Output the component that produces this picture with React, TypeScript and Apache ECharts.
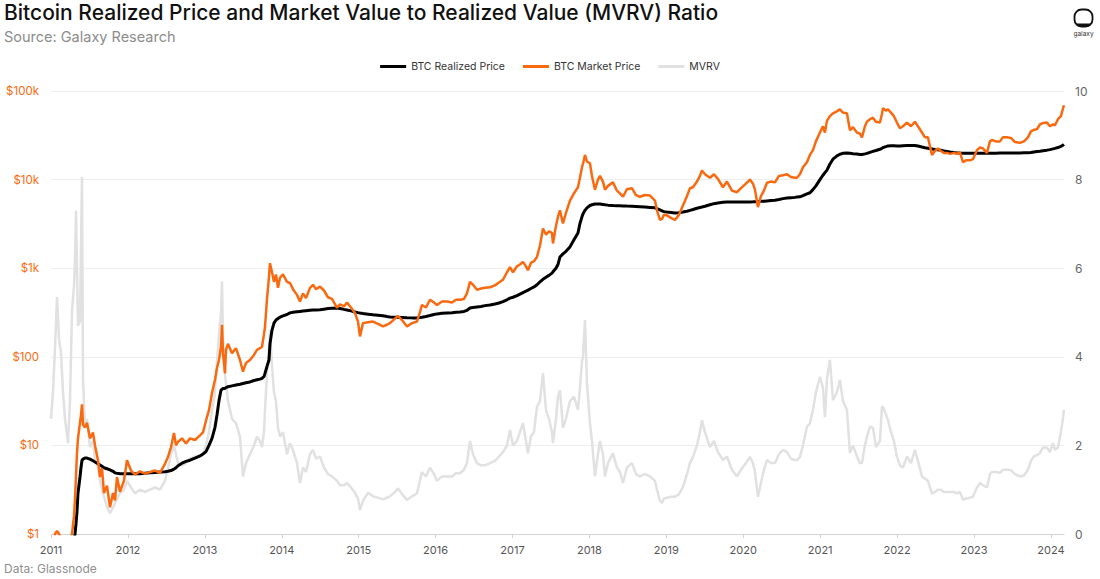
import React, { useEffect, useRef } from 'react';
import * as echarts from 'echarts';

// Time in decimal years
const years = [
  2011.0, 2011.026, 2011.052, 2011.078, 2011.104, 2011.13, 2011.156, 2011.182, 2011.221, 2011.247, 2011.273, 2011.299, 2011.312, 2011.325, 2011.338, 2011.351, 2011.377, 2011.39, 2011.403, 2011.416, 2011.442, 2011.468, 2011.507, 2011.546, 2011.572, 2011.611, 2011.637, 2011.663, 2011.689, 2011.728, 2011.767, 2011.806, 2011.832, 2011.858, 2011.897, 2011.949, 2011.988,
  2012.04, 2012.092, 2012.157, 2012.222, 2012.287, 2012.352, 2012.417, 2012.482, 2012.521, 2012.56, 2012.599, 2012.625, 2012.651, 2012.703, 2012.755, 2012.807, 2012.872, 2012.937, 2012.976,
  2013.015, 2013.054, 2013.093, 2013.132, 2013.158, 2013.184, 2013.21, 2013.223, 2013.236, 2013.262, 2013.275, 2013.301, 2013.353, 2013.405, 2013.457, 2013.496, 2013.535, 2013.587, 2013.639, 2013.678, 2013.717, 2013.743, 2013.769, 2013.782, 2013.808, 2013.834, 2013.847, 2013.873, 2013.899, 2013.925, 2013.951, 2013.977,
  2014.016, 2014.068, 2014.107, 2014.146, 2014.198, 2014.237, 2014.276, 2014.315, 2014.367, 2014.406, 2014.445, 2014.497, 2014.549, 2014.601, 2014.653, 2014.718, 2014.757, 2014.809, 2014.848, 2014.9, 2014.952, 2014.991,
  2015.017, 2015.056, 2015.121, 2015.186, 2015.251, 2015.316, 2015.368, 2015.407, 2015.472, 2015.511, 2015.563, 2015.628, 2015.693, 2015.758, 2015.797, 2015.823, 2015.875, 2015.927, 2015.979,
  2016.018, 2016.083, 2016.148, 2016.213, 2016.265, 2016.317, 2016.369, 2016.408, 2016.447, 2016.486, 2016.538, 2016.59, 2016.642, 2016.707, 2016.772, 2016.824, 2016.876, 2016.928, 2016.967,
  2017.006, 2017.058, 2017.097, 2017.136, 2017.175, 2017.201, 2017.24, 2017.279, 2017.318, 2017.357, 2017.396, 2017.435, 2017.474, 2017.513, 2017.526, 2017.565, 2017.591, 2017.617, 2017.656, 2017.695, 2017.747, 2017.799, 2017.851, 2017.877, 2017.903, 2017.916, 2017.942, 2017.968,
  2018.007, 2018.033, 2018.072, 2018.111, 2018.137, 2018.176, 2018.202, 2018.241, 2018.306, 2018.358, 2018.397, 2018.436, 2018.488, 2018.553, 2018.605, 2018.657, 2018.722, 2018.787, 2018.852, 2018.878, 2018.917, 2018.943, 2018.969,
  2019.008, 2019.06, 2019.112, 2019.164, 2019.216, 2019.268, 2019.307, 2019.346, 2019.398, 2019.437, 2019.463, 2019.502, 2019.567, 2019.619, 2019.671, 2019.736, 2019.788, 2019.853, 2019.918, 2019.97,
  2020.035, 2020.087, 2020.126, 2020.152, 2020.191, 2020.23, 2020.269, 2020.308, 2020.36, 2020.412, 2020.464, 2020.516, 2020.568, 2020.62, 2020.672, 2020.698, 2020.737, 2020.776, 2020.828, 2020.867, 2020.906, 2020.945, 2020.997,
  2021.036, 2021.062, 2021.088, 2021.127, 2021.166, 2021.218, 2021.257, 2021.296, 2021.348, 2021.387, 2021.426, 2021.478, 2021.517, 2021.543, 2021.582, 2021.608, 2021.647, 2021.686, 2021.725, 2021.777, 2021.803, 2021.816, 2021.855, 2021.881, 2021.92, 2021.959, 2021.998,
  2022.037, 2022.076, 2022.128, 2022.18, 2022.232, 2022.271, 2022.323, 2022.362, 2022.401, 2022.453, 2022.492, 2022.531, 2022.57, 2022.609, 2022.648, 2022.687, 2022.739, 2022.778, 2022.817, 2022.856, 2022.895, 2022.947, 2022.986,
  2023.038, 2023.077, 2023.116, 2023.168, 2023.207, 2023.233, 2023.285, 2023.337, 2023.376, 2023.428, 2023.48, 2023.532, 2023.597, 2023.649, 2023.701, 2023.74, 2023.779, 2023.818, 2023.857, 2023.896, 2023.948, 2023.987,
  2024.026, 2024.052, 2024.091, 2024.13, 2024.156, 2024.169,
];

// BTC market price, USD
const marketPrice = [
  0.3, 0.5, 1.0, 1.08, 1.0, 0.9, 0.85, 0.85, 0.8, 0.9, 1.0, 1.6, 2.5, 4.5, 8.2, 12, 18, 22, 29, 17, 16, 18, 12, 14, 10, 6.8, 4.4, 5.5, 2.9, 3.5, 2.0, 2.9, 2.4, 4.4, 3.0, 4.0, 6.8,
  5.2, 4.7, 5.1, 4.8, 5.0, 5.2, 4.9, 6.2, 7.4, 9.5, 13.8, 10, 11, 12, 10.5, 12, 11.5, 13, 14,
  19, 25, 39, 55, 75, 92, 130, 230, 110, 65, 120, 140, 110, 125, 92, 68, 85, 92, 105, 120, 125, 130, 180, 217, 450, 800, 1140, 900, 700, 850, 600, 780,
  850, 700, 680, 580, 500, 420, 520, 460, 600, 650, 580, 620, 560, 470, 450, 360, 390, 370, 410, 360, 313, 250,
  170, 240, 245, 250, 235, 220, 230, 240, 270, 290, 260, 220, 240, 250, 320, 385, 360, 440, 410,
  385, 420, 420, 410, 440, 440, 450, 520, 700, 650, 570, 590, 600, 610, 640, 690, 740, 900, 1030,
  900, 1050, 1100, 1180, 1050, 950, 1150, 1200, 1340, 1800, 2800, 2400, 2600, 2500, 1900, 3000, 3800, 4500, 3200, 4200, 5800, 7000, 8200, 10500, 13800, 15000, 19000, 16000,
  15300, 11000, 7700, 10000, 11000, 9500, 7700, 8500, 9300, 7500, 7000, 6400, 7800, 8000, 6700, 6400, 6700, 6600, 5800, 4500, 3500, 3600, 4000,
  3950, 3700, 3500, 4000, 5100, 6500, 8000, 8200, 9500, 11000, 12700, 11500, 10500, 11500, 10200, 8200, 9500, 7500, 7200, 8000,
  9000, 10000, 9000, 7700, 4900, 6500, 7500, 9200, 9500, 9300, 11000, 11200, 11500, 10700, 10500, 10500, 11500, 13800, 15700, 19000, 21500, 27000, 34000,
  40000, 34000, 46000, 52000, 56000, 59000, 62000, 57000, 56000, 36000, 39000, 34000, 33000, 30000, 40000, 45000, 48000, 50000, 45000, 44000, 55000, 64000, 60000, 62000, 57000, 52000, 44000,
  38000, 40000, 44000, 40000, 45000, 40000, 34000, 30000, 30000, 19000, 21000, 22500, 21000, 20000, 20000, 19500, 20000, 19500, 20500, 15700, 16500, 16500, 17000,
  21500, 23000, 22500, 20000, 27000, 28000, 27000, 27000, 30000, 30000, 29500, 26500, 26000, 27000, 30000, 35000, 36500, 37000, 42000, 43500, 44000, 40000,
  42000, 41000, 48000, 52000, 63000, 69000,
];

// BTC realized price, USD
const realizedPrice = [
  0.1, 0.12, 0.15, 0.18, 0.2, 0.22, 0.25, 0.3, 0.4, 0.5, 0.65, 0.85, 1.0, 1.3, 1.8, 2.9, 4.4, 5.6, 6.8, 7.0, 7.2, 7.2, 7.0, 6.7, 6.5, 6.2, 6.0, 5.8, 5.6, 5.45, 5.3, 5.1, 4.9, 4.85, 4.8, 4.8, 4.8,
  4.8, 4.8, 4.8, 4.85, 4.9, 4.95, 5.0, 5.05, 5.1, 5.2, 5.4, 5.6, 5.9, 6.3, 6.6, 6.8, 7.2, 7.6, 8.0,
  8.5, 10, 12, 16, 22, 32, 42, 43, 44, 44, 45, 46, 47, 48, 49, 50, 51, 52, 54, 55, 56, 57, 60, 65, 78, 92, 140, 200, 240, 260, 270, 280,
  290, 300, 313, 318, 322, 325, 328, 331, 335, 337, 338, 340, 345, 350, 353, 355, 350, 343, 338, 330, 320, 315,
  312, 308, 303, 298, 294, 290, 285, 282, 280, 279, 278, 276, 275, 275, 278, 280, 285, 292, 300,
  305, 310, 313, 315, 318, 320, 325, 335, 355, 360, 365, 370, 378, 385, 395, 405, 420, 440, 460,
  470, 490, 510, 530, 550, 565, 590, 615, 650, 700, 750, 790, 830, 880, 910, 1000, 1100, 1340, 1450, 1550, 1740, 2100, 2500, 3200, 3800, 4100, 4500, 4800,
  5100, 5200, 5300, 5300, 5300, 5250, 5200, 5150, 5100, 5080, 5060, 5040, 5020, 5000, 4980, 4950, 4900, 4850, 4800, 4700, 4550, 4450, 4350,
  4300, 4250, 4200, 4220, 4300, 4400, 4500, 4600, 4750, 4850, 4900, 5000, 5200, 5350, 5450, 5550, 5600, 5600, 5600, 5600,
  5600, 5600, 5620, 5640, 5650, 5680, 5700, 5750, 5800, 5850, 5950, 6100, 6200, 6250, 6300, 6350, 6400, 6600, 6900, 7100, 7700, 8500, 10000,
  11200, 12000, 12800, 15000, 17000, 18500, 19300, 19800, 20000, 19800, 19600, 19400, 19200, 19200, 19500, 19800, 20300, 20800, 21300, 22000, 22500, 23000, 23600, 24000, 24100, 24100, 24000,
  24000, 24100, 24200, 24300, 24300, 23900, 23300, 22900, 22600, 22200, 21900, 21700, 21400, 21100, 20800, 20500, 20200, 20000, 19900, 19850, 19800, 19800, 19800,
  19800, 19800, 19800, 19800, 19800, 19850, 19850, 19900, 19900, 19950, 19950, 20000, 20000, 20050, 20100, 20200, 20500, 20700, 20900, 21200, 21500, 21800,
  22200, 22500, 23000, 23700, 24400, 25000,
];

// Market value to realized value ratio
const mvrv = [
  2.6, 3.2, 4.2, 5.35, 4.4, 4.1, 3.2, 2.6, 2.05, 3.0, 5.05, 5.6, 6.2, 7.3, 6.0, 4.7, 4.8, 6.5, 8.06, 3.5, 2.4, 2.6, 1.96, 2.1, 1.67, 1.5, 1.2, 1.0, 0.85, 0.6, 0.47, 0.6, 0.7, 0.8, 0.92, 1.0, 1.2,
  1.05, 0.92, 1.0, 0.95, 1.0, 1.05, 1.0, 1.2, 1.5, 1.8, 2.0, 1.8, 1.6, 1.55, 1.6, 1.7, 1.75, 1.75, 1.8,
  2.0, 2.3, 2.8, 3.2, 3.9, 4.5, 5.0, 5.7, 4.4, 3.6, 3.4, 3.0, 2.6, 2.5, 2.2, 1.3, 1.6, 1.8, 2.0, 2.2, 2.1, 1.96, 2.3, 2.8, 3.6, 4.2, 4.6, 3.8, 3.2, 3.0, 2.4, 2.2,
  2.3, 1.8, 2.05, 1.9, 1.6, 1.15, 1.5, 1.4, 1.8, 1.9, 1.7, 1.75, 1.5, 1.35, 1.3, 1.2, 1.1, 1.1, 1.15, 1.05, 0.93, 0.8,
  0.54, 0.75, 0.93, 0.85, 0.82, 0.78, 0.82, 0.85, 0.95, 1.03, 0.9, 0.77, 0.85, 0.92, 1.2, 1.4, 1.3, 1.5, 1.35,
  1.2, 1.3, 1.3, 1.3, 1.37, 1.37, 1.45, 1.6, 2.1, 1.8, 1.6, 1.55, 1.55, 1.6, 1.65, 1.75, 1.85, 2.0, 2.35,
  2.0, 2.1, 2.3, 2.5, 2.1, 1.82, 2.2, 2.3, 2.87, 3.0, 3.63, 2.8, 2.6, 2.3, 2.05, 2.6, 3.1, 3.25, 2.4, 2.6, 3.0, 3.1, 2.8, 3.3, 3.9, 4.0, 4.83, 3.4,
  2.5, 2.1, 1.3, 1.8, 2.1, 1.8, 1.3, 1.6, 1.82, 1.5, 1.4, 1.15, 1.5, 1.6, 1.35, 1.3, 1.35, 1.3, 1.2, 1.0, 0.75, 0.7, 0.8,
  0.82, 0.84, 0.84, 0.9, 1.06, 1.35, 1.6, 1.74, 2.0, 2.3, 2.57, 2.3, 1.96, 2.1, 1.85, 1.67, 1.75, 1.45, 1.3, 1.45,
  1.6, 1.74, 1.6, 1.4, 0.84, 1.15, 1.45, 1.67, 1.6, 1.6, 1.8, 1.9, 1.85, 1.7, 1.67, 1.67, 1.74, 2.0, 2.42, 2.5, 2.8, 3.2, 3.55,
  3.3, 2.64, 3.5, 3.93, 3.02, 3.2, 3.48, 3.0, 2.8, 1.83, 2.0, 1.75, 1.6, 1.6, 2.0, 2.2, 2.42, 2.4, 1.96, 2.1, 2.87, 2.87, 2.7, 2.57, 2.3, 2.1, 1.74,
  1.55, 1.5, 1.75, 1.6, 1.9, 1.65, 1.3, 1.25, 1.2, 0.92, 0.95, 1.0, 1.0, 0.95, 0.95, 0.95, 0.95, 0.92, 0.95, 0.77, 0.8, 0.82, 0.84,
  1.05, 1.15, 1.1, 1.05, 1.35, 1.4, 1.4, 1.38, 1.45, 1.45, 1.44, 1.35, 1.3, 1.32, 1.45, 1.65, 1.75, 1.78, 1.83, 1.95, 1.95, 1.85,
  2.05, 1.9, 1.95, 2.3, 2.6, 2.8,
];

const priceLabels: Record<number, string> = {
  1: '$1',
  10: '$10',
  100: '$100',
  1000: '$1k',
  10000: '$10k',
  100000: '$100k',
};

const FONT = 'Inter, "Noto Sans", sans-serif';
const ORANGE = '#f96a10';

export default function App() {
  const ref = useRef<HTMLDivElement>(null);

  useEffect(() => {
    if (!ref.current) return;
    const chart = echarts.init(ref.current, null, { renderer: 'svg' });
    const pair = (vals: number[]) => years.map((y, i) => [y, vals[i]]);

    chart.setOption({
      animation: false,
      backgroundColor: '#ffffff',
      textStyle: { fontFamily: FONT },
      title: {
        text: 'Bitcoin Realized Price and Market Value to Realized Value (MVRV) Ratio',
        subtext: 'Source: Galaxy Research',
        left: 4,
        top: 2,
        padding: 0,
        itemGap: 6,
        textStyle: { fontFamily: FONT, fontSize: 21, fontWeight: 500, color: '#111111' },
        subtextStyle: { fontFamily: FONT, fontSize: 14.5, color: '#8c8c8c' },
      },
      legend: {
        top: 61,
        left: 'center',
        icon: 'rect',
        itemWidth: 26,
        itemHeight: 3,
        itemGap: 18,
        textStyle: { fontFamily: FONT, fontSize: 10.5, color: '#333333' },
        data: ['BTC Realized Price', 'BTC Market Price', 'MVRV'],
        padding: 0,
      },
      grid: { left: 51, right: 36, top: 91, bottom: 45 },
      xAxis: {
        type: 'value',
        min: 2011,
        max: 2024.17,
        interval: 1,
        axisLine: { lineStyle: { color: '#d4d4d4' } },
        axisTick: { show: true, length: 4, lineStyle: { color: '#d4d4d4' } },
        splitLine: { show: false },
        axisLabel: {
          color: '#555555',
          fontSize: 11,
          margin: 10,
          showMaxLabel: false,
          formatter: (v: number) => (Math.abs(v - Math.round(v)) < 1e-6 ? String(Math.round(v)) : ''),
        },
      },
      yAxis: [
        {
          type: 'log',
          logBase: 10,
          min: 1,
          max: 100000,
          axisLine: { show: false },
          axisTick: { show: false },
          splitLine: { show: true, lineStyle: { color: '#eeeeee' } },
          axisLabel: {
            color: ORANGE,
            fontSize: 11.5,
            margin: 12,
            formatter: (v: number) => priceLabels[Math.round(v)] ?? '',
          },
        },
        {
          type: 'value',
          min: 0,
          max: 10,
          interval: 2,
          position: 'right',
          axisLine: { show: false },
          axisTick: { show: false },
          splitLine: { show: false },
          axisLabel: { color: '#666666', fontSize: 12, margin: 11 },
        },
      ],
      series: [
        {
          name: 'MVRV',
          type: 'line',
          yAxisIndex: 1,
          data: pair(mvrv),
          showSymbol: false,
          lineStyle: { color: '#e1e1e1', width: 2.5 },
          itemStyle: { color: '#e1e1e1' },
          z: 1,
        },
        {
          name: 'BTC Realized Price',
          type: 'line',
          yAxisIndex: 0,
          data: pair(realizedPrice),
          showSymbol: false,
          lineStyle: { color: '#000000', width: 3 },
          itemStyle: { color: '#000000' },
          z: 2,
        },
        {
          name: 'BTC Market Price',
          type: 'line',
          yAxisIndex: 0,
          data: pair(marketPrice),
          showSymbol: false,
          lineStyle: { color: ORANGE, width: 2.5 },
          itemStyle: { color: ORANGE },
          z: 3,
        },
      ],
      graphic: [
        {
          type: 'text',
          left: 4,
          top: 562,
          style: { text: 'Data: Glassnode', fill: '#8f8f8f', fontSize: 12, fontFamily: FONT },
        },
        {
          type: 'rect',
          shape: { x: 1074.5, y: 9.5, width: 18, height: 17, r: 7 },
          style: { fill: '#ffffff', stroke: '#111111', lineWidth: 1.8 },
        },
        {
          type: 'rect',
          shape: { x: 1076, y: 23.5, width: 15, height: 3, r: [0, 0, 3, 3] },
          style: { fill: '#111111' },
        },
        {
          type: 'text',
          x: 1083.5,
          y: 30,
          style: { text: 'galaxy', fill: '#333333', fontSize: 6.5, fontFamily: FONT, align: 'center' },
        },
      ],
    });

    return () => chart.dispose();
  }, []);

  return (
    <div
      ref={ref}
      style={{ position: 'fixed', left: 0, top: 0, width: 1100, height: 579, background: '#ffffff' }}
    />
  );
}
